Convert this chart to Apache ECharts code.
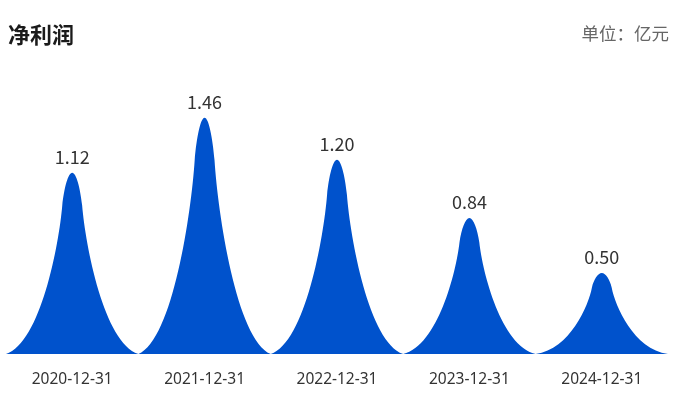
<!DOCTYPE html>
<html>
<head>
<meta charset="utf-8">
<script src="https://cdn.jsdelivr.net/npm/echarts@6/dist/echarts.min.js"></script>
<style>
    html, body { margin: 0; padding: 0; background: #fff; }
    #chart { width: 698px; height: 398px; }
</style>
</head>
<body>
<div id="chart"></div>
<script>
var categories = ['2020-12-31', '2021-12-31', '2022-12-31', '2023-12-31', '2024-12-31'];
var profitValues = [1.12, 1.46, 1.20, 0.84, 0.50];

// peak shape, rounded top and concave sides
var PEAK = 'path://M0,100 C26,94 40,40 42.5,18 C44,8 47,0 50,0 C53,0 56,8 57.5,18 C60,40 74,94 100,100 Z';
var FONT = "'Microsoft YaHei', 'Noto Sans CJK SC', sans-serif";
var NUM_FONT = "'Segoe UI', 'Noto Sans', sans-serif";

var chart = echarts.init(document.getElementById('chart'));

chart.setOption({
    title: [{
        text: '净利润',
        left: 3,
        top: 19,
        textStyle: { fontSize: 22, fontWeight: 'bold', color: '#1a1a1a', fontFamily: FONT }
    }, {
        text: '单位：亿元',
        right: 24,
        top: 20,
        textStyle: { fontSize: 17.5, fontWeight: 'normal', color: '#666', fontFamily: FONT }
    }],
    grid: { left: 6, right: 30, top: 95, bottom: 44 },
    xAxis: {
        type: 'category',
        data: categories,
        axisLine: { show: false },
        axisTick: { show: false },
        axisLabel: { margin: 18, fontSize: 15.5, color: '#333', fontFamily: NUM_FONT }
    },
    yAxis: {
        type: 'value',
        min: 0,
        max: 1.6,
        show: false,
        splitLine: { show: false }
    },
    series: [{
        type: 'pictorialBar',
        data: profitValues,
        symbol: PEAK,
        symbolSize: ['100%', '100%'],
        barCategoryGap: '0%',
        itemStyle: { color: '#0052CC' },
        label: {
            show: true,
            position: 'top',
            distance: 7,
            fontSize: 18,
            color: '#333',
            fontFamily: FONT,
            formatter: function (p) { return p.value.toFixed(2); }
        }
    }]
});
</script>
</body>
</html>
